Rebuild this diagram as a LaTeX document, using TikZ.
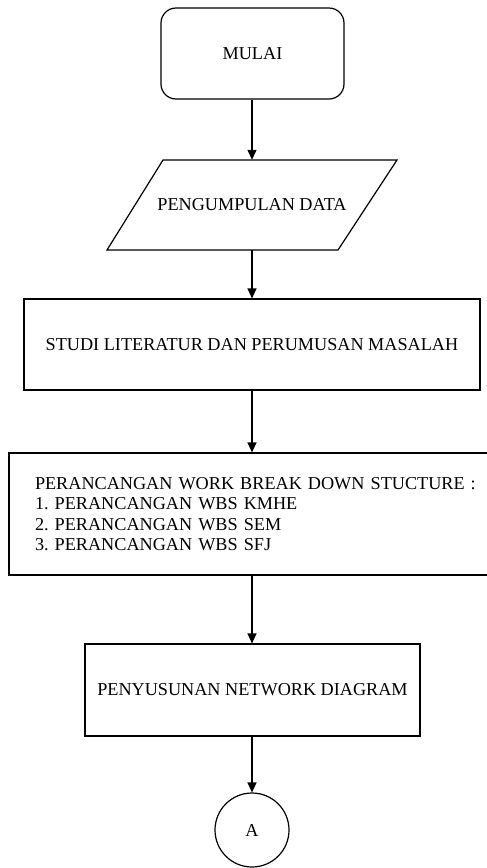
\documentclass[tikz,border=0pt]{standalone}
\usepackage{fontspec}
\setmainfont{Liberation Serif}
\usetikzlibrary{arrows.meta}
\begin{document}
\frenchspacing
\begin{tikzpicture}[x=1pt,y=-1pt,
  every node/.style={font=\fontsize{18.2}{20.5}\selectfont, inner sep=0pt},
  boxstyle/.style={draw, line width=1.2pt, minimum width=#1},
  conn/.style={line width=1.2pt, -{Triangle[length=10pt,width=9pt]}}]
\useasboundingbox (0,0) rectangle (487,868);
\clip (0,0) rectangle (487,868);
\node[boxstyle=183pt, rounded corners=15pt, minimum height=91pt] (mulai) at (252.5,53.5) {MULAI};
\node[minimum width=180pt, minimum height=90pt] (data) at (252,205) {PENGUMPULAN DATA};
\draw[line width=1.2pt] (163,160) -- (397,160) -- (338,250) -- (107,250) -- cycle;
\node[boxstyle=456pt, minimum height=91pt] (studi) at (252,344.5) {STUDI LITERATUR DAN PERUMUSAN MASALAH};
\node[boxstyle=502pt, minimum height=122pt, inner xsep=26pt, text width=450pt, align=left] (wbs) at (260,514) {PERANCANGAN WORK BREAK DOWN STUCTURE :\\1. PERANCANGAN WBS KMHE\\2. PERANCANGAN WBS SEM\\3. PERANCANGAN WBS SFJ};
\node[boxstyle=335pt, minimum height=92pt] (net) at (252.5,690) {PENYUSUNAN NETWORK DIAGRAM};
\node[draw, circle, line width=1.2pt, minimum size=74pt] (a) at (252,830) {A};
\draw[conn] (mulai.south -| data.north) -- (data.north);
\draw[conn] (data.south) -- (studi.north -| data.south);
\draw[conn] (studi.south -| data.south) -- (wbs.north -| data.south);
\draw[conn] (wbs.south -| data.south) -- (net.north -| data.south);
\draw[conn] (net.south -| a.north) -- (a.north);
\end{tikzpicture}
\end{document}
